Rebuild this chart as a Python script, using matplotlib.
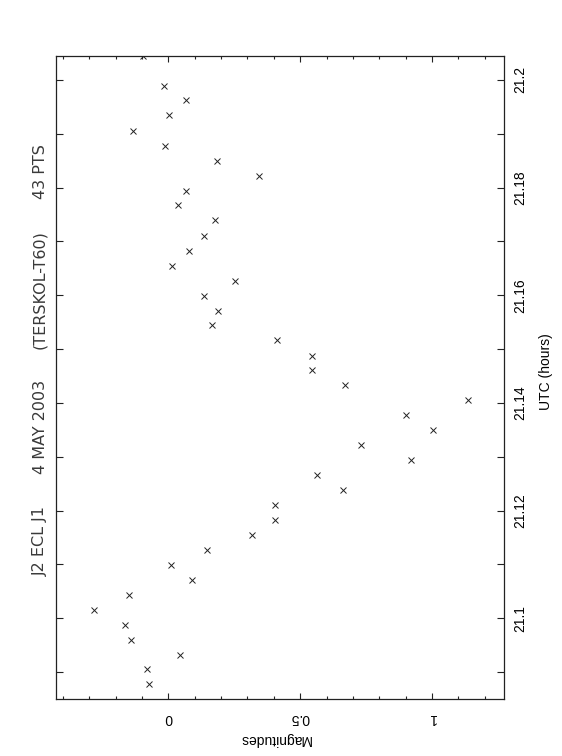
import matplotlib
matplotlib.use("Agg")
import matplotlib.pyplot as plt
from matplotlib.ticker import MultipleLocator, FormatStrFormatter

# UTC of each point (hours) and its magnitude
utc = [21.2045, 21.1989, 21.1962, 21.1934, 21.1906, 21.1878, 21.1850,
       21.1822, 21.1794, 21.1767, 21.1739, 21.1711, 21.1683, 21.1655,
       21.1627, 21.1599, 21.1571, 21.1544, 21.1516, 21.1488, 21.1461,
       21.1433, 21.1405, 21.1378, 21.1349, 21.1321, 21.1294, 21.1266,
       21.1238, 21.1210, 21.1183, 21.1155, 21.1127, 21.1099, 21.1071,
       21.1043, 21.1016, 21.0988, 21.0960, 21.0932, 21.0905, 21.0877]
mag = [-0.095, -0.015, 0.068, 0.002, -0.134, -0.014, 0.183,
       0.343, 0.067, 0.036, 0.176, 0.134, 0.079, 0.015,
       0.254, 0.134, 0.190, 0.167, 0.412, 0.545, 0.544,
       0.671, 1.137, 0.900, 1.005, 0.732, 0.920, 0.565,
       0.661, 0.406, 0.403, 0.319, 0.148, 0.009, 0.090,
       -0.148, -0.283, -0.163, -0.141, 0.046, -0.082, -0.072]

titel = ["J2 ECL J1", "4 MAY 2003", "(TERSKOL-T60)", "43 PTS"]
titel_y = [541, 427, 290, 172]   # pixel rows of the text centres

W, H = 562, 756
fig = plt.figure(figsize=(W / 100, H / 100), dpi=100)
ax = fig.add_axes([56 / W, 1 - 699 / H, (504 - 56) / W, (699 - 55.7) / H])

ax.plot(mag, utc, 'x', color='#222222', markersize=3.8, markeredgewidth=0.7)

ax.set_xlim(-0.426, 1.273)
ax.set_ylim(21.085, 21.2045)

ax.xaxis.set_major_locator(MultipleLocator(0.5))
ax.xaxis.set_minor_locator(MultipleLocator(0.1))
ax.xaxis.set_major_formatter(FormatStrFormatter('%g'))
ax.yaxis.set_major_locator(MultipleLocator(0.02))
ax.yaxis.set_minor_locator(MultipleLocator(0.01))
ax.yaxis.set_major_formatter(FormatStrFormatter('%g'))

ax.tick_params(axis='x', which='both', direction='in', top=True, bottom=True,
               labelbottom=True, labeltop=False, width=0.8, color='#222222')
ax.tick_params(axis='x', which='major', length=4.5, pad=9)
ax.tick_params(axis='x', which='minor', length=2.3)
ax.tick_params(axis='y', which='both', direction='in', left=True, right=True,
               labelleft=False, labelright=True, length=5, width=0.8,
               color='#222222', pad=7)

for lab in ax.get_xticklabels():
    lab.set_rotation(180)
    lab.set_fontsize(10)
    lab.set_fontfamily('Liberation Sans')
for lab in ax.get_yticklabels():
    lab.set_rotation(90)
    lab.set_va('center')
    lab.set_fontsize(10)
    lab.set_fontfamily('Liberation Sans')

for s in ax.spines.values():
    s.set_linewidth(0.9)
    s.set_color('#222222')

fig.text(275 / W, 1 - 739 / H, 'Magnitudes', rotation=180, ha='center', va='center',
         fontsize=10, family='Liberation Sans')
fig.text(546 / W, 1 - 372 / H, 'UTC (hours)', rotation=90, ha='center', va='center',
         fontsize=10, family='Liberation Sans')

for t, yy in zip(titel, titel_y):
    fig.text(40 / W, 1 - yy / H, t, rotation=90, ha='center', va='center',
             fontsize=11.5, family='DejaVu Sans', color='#3a3a3a')

fig.savefig('out.png', dpi=100)
